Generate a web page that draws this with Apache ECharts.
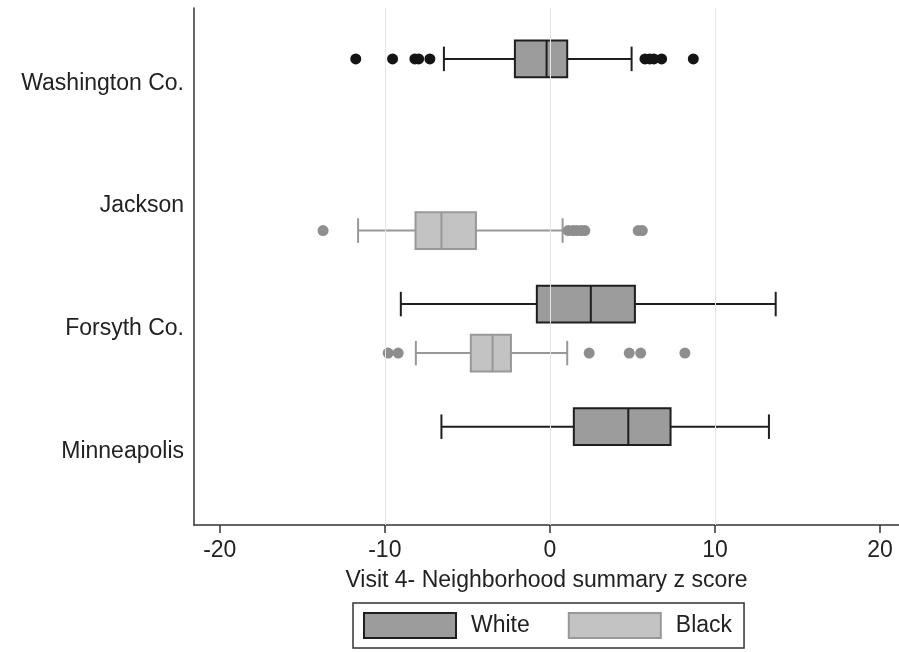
<!DOCTYPE html>
<html>
<head>
<meta charset="utf-8">
<script src="https://cdn.jsdelivr.net/npm/echarts@6/dist/echarts.min.js"></script>
<style>
html,body{margin:0;padding:0;background:#fff;}
#chart{width:899px;height:652px;}
</style>
</head>
<body>
<div id="chart"></div>
<script>
// ---- data ----
const categories = ['Washington Co.', 'Jackson', 'Forsyth Co.', 'Minneapolis'];
const xTicks = [-20, -10, 0, 10, 20];
const gridXValues = [-10, 0, 10];
// [categoryIndex, lowerWhisker, q1, median, q3, upperWhisker]
const whiteBoxes = [
  [0, -6.42, -2.12, -0.20, 1.05, 4.95],
  [2, -9.03, -0.79, 2.48, 5.15, 13.68],
  [3, -6.57, 1.45, 4.75, 7.31, 13.27]
];
const blackBoxes = [
  [1, -11.62, -8.14, -6.57, -4.48, 0.77],
  [2, -8.12, -4.79, -3.47, -2.36, 1.05]
];
// [value, categoryIndex]
const whiteOutliers = [
  [-11.76, 0], [-9.53, 0], [-8.18, 0], [-7.95, 0], [-7.27, 0],
  [5.76, 0], [6.05, 0], [6.3, 0], [6.77, 0], [8.69, 0]
];
const blackOutliers = [
  [-13.74, 1], [1.11, 1], [1.4, 1], [1.62, 1], [1.9, 1], [2.12, 1], [5.35, 1], [5.6, 1],
  [-9.8, 2], [-9.19, 2], [2.38, 2], [4.81, 2], [5.5, 2], [8.18, 2]
];

// ---- styling / layout ----
const OFF_WHITE = -0.2, OFF_BLACK = 0.2;
const WHITE = {fill: '#9c9c9c', stroke: '#1e1e1e', dot: '#141414'};
const BLACK = {fill: '#c3c3c3', stroke: '#989898', dot: '#8e8e8e'};
const FONT = 'Liberation Sans, Arial, sans-serif';

function boxRender(style) {
  return function (params, api) {
    const y = api.value(0);
    const lo = api.coord([api.value(1), y]);
    const q1 = api.coord([api.value(2), y]);
    const md = api.coord([api.value(3), y]);
    const q3 = api.coord([api.value(4), y]);
    const hi = api.coord([api.value(5), y]);
    const h = api.size([0, 0.3])[1];
    const c = api.size([0, 0.2])[1];
    const ls = {stroke: style.stroke, lineWidth: 2};
    return {
      type: 'group',
      children: [
        {type: 'line', shape: {x1: lo[0], y1: lo[1], x2: q1[0], y2: q1[1]}, style: ls},
        {type: 'line', shape: {x1: q3[0], y1: q3[1], x2: hi[0], y2: hi[1]}, style: ls},
        {type: 'line', shape: {x1: lo[0], y1: lo[1] - c / 2, x2: lo[0], y2: lo[1] + c / 2}, style: ls},
        {type: 'line', shape: {x1: hi[0], y1: hi[1] - c / 2, x2: hi[0], y2: hi[1] + c / 2}, style: ls},
        {type: 'rect', shape: {x: q1[0], y: q1[1] - h / 2, width: q3[0] - q1[0], height: h},
          style: {fill: style.fill, stroke: style.stroke, lineWidth: 2}},
        {type: 'line', shape: {x1: md[0], y1: md[1] - h / 2, x2: md[0], y2: md[1] + h / 2}, style: ls}
      ]
    };
  };
}

const shift = (arr, off) => arr.map(r => [r[0] + off].concat(r.slice(1)));
const shiftPts = (arr, off) => arr.map(r => [r[0], r[1] + off]);

const chart = echarts.init(document.getElementById('chart'), null, {renderer: 'canvas'});
chart.setOption({
  animation: false,
  backgroundColor: '#fff',
  grid: {left: 194, right: 0, top: 8, bottom: 127, containLabel: false},
  xAxis: {
    type: 'value', min: -21.56, max: 21.15,
    name: 'Visit 4- Neighborhood summary z score',
    nameLocation: 'middle', nameGap: 44,
    nameTextStyle: {fontFamily: FONT, fontSize: 23, color: '#222'},
    axisLine: {show: true, onZero: false, lineStyle: {color: '#333', width: 1.5}},
    axisTick: {show: true, length: 8, customValues: xTicks, lineStyle: {color: '#333', width: 1.5}},
    axisLabel: {customValues: xTicks, margin: 14, fontFamily: FONT, fontSize: 23, color: '#222'},
    splitLine: {show: false}
  },
  yAxis: {
    type: 'value', inverse: true, min: -0.615, max: 3.602,
    axisLine: {show: true, onZero: false, lineStyle: {color: '#333', width: 1.5}},
    axisTick: {show: false},
    splitLine: {show: false},
    axisLabel: {
      customValues: [0, 1, 2, 3], margin: 10,
      fontFamily: FONT, fontSize: 23, color: '#222',
      formatter: v => categories[Math.round(v)]
    }
  },
  legend: {
    left: 353, top: 603,
    orient: 'horizontal',
    padding: [9, 12, 9, 10],
    borderColor: '#333', borderWidth: 1.5,
    itemWidth: 92, itemHeight: 25, itemGap: 38,
    textStyle: {fontFamily: FONT, fontSize: 23, color: '#222', padding: [0, 0, 0, 10]},
    selectedMode: false,
    data: [
      {name: 'White', icon: 'rect', itemStyle: {color: WHITE.fill, borderColor: WHITE.stroke, borderWidth: 2}},
      {name: 'Black', icon: 'rect', itemStyle: {color: BLACK.fill, borderColor: BLACK.stroke, borderWidth: 2}}
    ]
  },
  series: [
    {
      name: 'grid', type: 'line', data: [], silent: true,
      markLine: {
        silent: true, symbol: 'none', label: {show: false},
        lineStyle: {color: '#e6e6e6', width: 1, type: 'solid'},
        data: gridXValues.map(v => ({xAxis: v}))
      }
    },
    {
      name: 'White', type: 'custom', renderItem: boxRender(WHITE),
      itemStyle: {color: WHITE.fill, borderColor: WHITE.stroke},
      encode: {x: [1, 2, 3, 4, 5], y: 0},
      data: shift(whiteBoxes, OFF_WHITE), z: 3
    },
    {
      name: 'Black', type: 'custom', renderItem: boxRender(BLACK),
      itemStyle: {color: BLACK.fill, borderColor: BLACK.stroke},
      encode: {x: [1, 2, 3, 4, 5], y: 0},
      data: shift(blackBoxes, OFF_BLACK), z: 3
    },
    {
      name: 'White outliers', type: 'scatter', symbol: 'circle', symbolSize: 11,
      itemStyle: {color: WHITE.dot, opacity: 1}, data: shiftPts(whiteOutliers, OFF_WHITE), z: 4
    },
    {
      name: 'Black outliers', type: 'scatter', symbol: 'circle', symbolSize: 11,
      itemStyle: {color: BLACK.dot, opacity: 1}, data: shiftPts(blackOutliers, OFF_BLACK), z: 4
    }
  ]
});
</script>
</body>
</html>
